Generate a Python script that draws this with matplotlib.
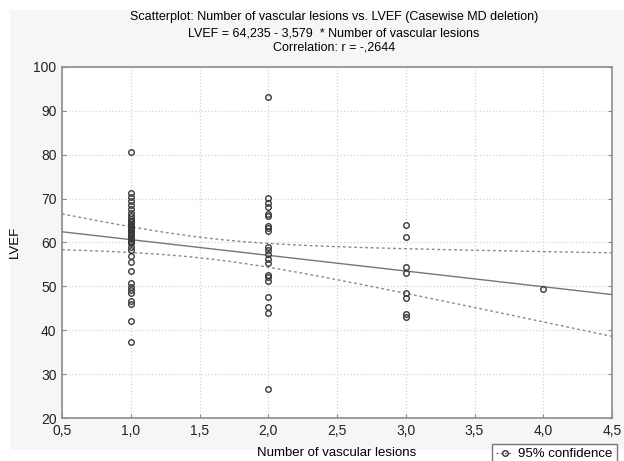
import numpy as np
import matplotlib.pyplot as plt
from matplotlib.patches import Rectangle
from matplotlib.lines import Line2D

plt.rcParams['font.family'] = ['Liberation Sans', 'DejaVu Sans']

### Data ###
lesions_1 = [80.7, 71.2, 70.3, 69.4, 68.5, 67.6, 66.8, 66.0, 65.3, 64.6, 64.0, 63.4,
             62.8, 62.2, 61.6, 61.0, 60.4, 59.8, 59.0, 58.3, 57.0, 55.6, 53.4, 50.7,
             49.9, 49.2, 48.4, 46.7, 46.0, 42.0, 37.4,
             65.0, 64.3, 63.7, 63.0, 62.5, 61.9, 61.3, 60.7, 60.1, 62.0]
lesions_2 = [93.1, 70.1, 69.1, 68.0, 66.4, 66.0, 63.8, 63.2, 62.7, 59.0, 58.3, 57.4,
             56.2, 55.4, 52.6, 52.1, 51.3, 47.5, 45.2, 43.9, 26.5]
lesions_3 = [64.1, 61.3, 54.5, 53.0, 48.6, 47.4, 43.7, 43.0]
lesions_4 = [49.5]

intercept = 64.235
slope = -3.579

x = np.array([1.0] * len(lesions_1) + [2.0] * len(lesions_2)
             + [3.0] * len(lesions_3) + [4.0] * len(lesions_4))
y = np.array(lesions_1 + lesions_2 + lesions_3 + lesions_4)

### Regression + 95% confidence band ###
n = len(x)
resid = y - (intercept + slope * x)
s = np.sqrt(np.sum(resid ** 2) / (n - 2))
sxx = np.sum((x - x.mean()) ** 2)
xx = np.linspace(0.5, 4.5, 200)
fit = intercept + slope * xx
half = 1.995 * s * np.sqrt(1.0 / n + (xx - x.mean()) ** 2 / sxx)

### Figure ###
fig = plt.figure(figsize=(6.24, 4.61), dpi=100, facecolor='white')
fig.patches.append(Rectangle((10 / 624, 1 - 450 / 461), 1, 440 / 461,
                             transform=fig.transFigure, facecolor='#f6f6f6',
                             edgecolor='none', zorder=-10))
ax = fig.add_axes([62 / 624, 1 - 418 / 461, 550 / 624, 351 / 461])
ax.set_facecolor('white')

ax.plot(xx, fit, color='#777777', lw=1.0, zorder=3)
ax.plot(xx, fit + half, color='#8a8a8a', lw=1.0, ls=(0, (2, 2)), zorder=3)
ax.plot(xx, fit - half, color='#8a8a8a', lw=1.0, ls=(0, (2, 2)), zorder=3)
ax.plot(x, y, 'o', mfc='none', mec='#3a3a3a', ms=4, mew=1.0, zorder=4)

ax.set_xlim(0.5, 4.5)
ax.set_ylim(20, 100)
ax.set_xticks(np.arange(0.5, 4.51, 0.5))
ax.set_yticks(np.arange(20, 101, 10))
ax.set_xticklabels([('%.1f' % v).replace('.', ',') for v in np.arange(0.5, 4.51, 0.5)])
ax.grid(True, color='#d4d4d4', ls=':', lw=0.9)
ax.tick_params(direction='in', length=3, color='#888888', labelsize=10,
               labelcolor='#222222', pad=4, right=True)
for sp in ax.spines.values():
    sp.set_color('#8c8c8c')
    sp.set_linewidth(1.2)

### Texts ###
fig.text(0.535, 1 - 17 / 461, 'Scatterplot: Number of vascular lesions vs. LVEF (Casewise MD deletion)',
         ha='center', va='center', fontsize=9)
fig.text(0.535, 1 - 33 / 461, 'LVEF = 64,235 - 3,579  * Number of vascular lesions',
         ha='center', va='center', fontsize=9)
fig.text(0.535, 1 - 48 / 461, 'Correlation: r = -,2644',
         ha='center', va='center', fontsize=9)
fig.text(15 / 624, 1 - 242 / 461, 'LVEF', rotation=90, ha='center', va='center', fontsize=9.5)
fig.text(337 / 624, 1 - 453 / 461, 'Number of vascular lesions', ha='center', va='center',
         fontsize=9.5)

h = Line2D([], [], color='#777777', ls=(0, (1.5, 1.5)), lw=1, marker='o', mfc='none',
           mec='#333333', ms=4)
fig.legend([h], ['95% confidence'], loc='upper left', bbox_to_anchor=(492 / 624, 1 - 444 / 461),
           frameon=True, fancybox=False, edgecolor='#555555', facecolor='white',
           fontsize=9.5, handlelength=1.3, borderpad=0.3, handletextpad=0.4,
           borderaxespad=0)

fig.savefig('out.png', dpi=100, facecolor='white')
